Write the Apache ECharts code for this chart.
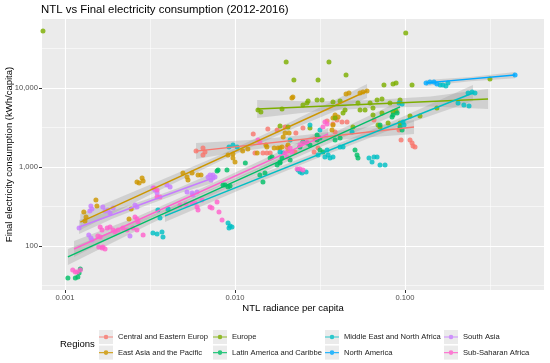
<!DOCTYPE html>
<html><head><meta charset="utf-8">
<script src="https://cdn.jsdelivr.net/npm/echarts@6/dist/echarts.min.js"></script>
<style>html,body{margin:0;padding:0;background:#fff}#c{width:550px;height:363px}</style>
</head><body><div id="c"></div>
<script>
// ---------- DATA (NTL radiance per capita, kWh per capita) ----------
const regionNames = ['Central and Eastern Europ','East Asia and the Pacific','Europe','Latin America and Caribbe','Middle East and North Africa','North America','South Asia','Sub-Saharan Africa'];
const xTicks = [0.001, 0.01, 0.1];
const yTicks = [100, 1000, 10000];

const ceeNTL = [0.0059,0.00648,0.00648,0.00666,0.0128,0.0156,0.0177,0.0197,0.0251,0.0348,0.0377,0.0131,0.0146,0.0154,0.0161,0.0202,0.0205,0.0225,0.0292,0.0296,0.0308,0.0228,0.0398,0.0426,0.0456,0.0388,0.0657,0.0922,0.0948,0.107,0.110,0.1115,0.1145];
const ceeKWh = [1590,1420,1740,1550,2620,3030,2940,3210,3120,3820,3500,1500,1500,1500,1500,1790,1590,1550,1550,2260,1740,2690,3930,3710,3710,2770,3930,2940,2200,2200,2010,1840,1790];

const eapNTL = [0.00129,0.00133,0.00131,0.00152,0.00154,0.00245,0.00238,0.00273,0.00284,0.00288,0.00265,0.00522,0.00529,0.00606,0.00559,0.00631,0.00973,0.00973,0.0100,0.0111,0.0119,0.0152,0.0179,0.0197,0.0208,0.0216,0.0219,0.0450,0.0468,0.0566,0.0598,0.0544,0.0377,0.0404,0.0388,0.0377,0.0372,0.0192,0.0189,0.0184,0.0154,0.0170,0.0205,0.00494,0.00910,0.0135];
const eapKWh = [269,233,207,382,321,294,220,627,726,665,646,747,685,792,840,792,1460,1300,1157,1594,1690,1900,1740,2690,2690,7470,7690,8390,8640,8900,9160,8640,4170,4290,4550,3400,2940,2400,1790,1740,1790,1740,1900,840,1420,1500];

const eurNTL = [0.000742,0.101,0.0200,0.0357,0.0222,0.0308,0.0450,0.0752,0.0850,0.0886,0.110,0.01365,0.0142,0.0189,0.0251,0.0265,0.0269,0.0304,0.0325,0.0377,0.0415,0.0529,0.0623,0.0685,0.0732,0.0816,0.0935,0.0432,0.0444,0.0544,0.0582,0.0648,0.0732,0.0850,0.0886,0.0648,0.0388,0.0184,0.0205,0.0276,0.0494,0.0694,0.0713,0.0795,0.0935,0.107,0.1225,0.154,0.316];
const eurKWh = [52700,49700,21300,21300,12600,12600,14600,10900,11200,11600,10900,5270,4970,5420,6090,6460,6840,7050,7050,6650,6840,6460,6460,7050,7260,6460,7050,4820,5270,5270,5270,4550,4820,4970,5110,5580,4170,3300,3210,3120,3210,3400,3210,3600,3600,4420,4420,5580,13000];

const lacNTL = [0.00104,0.00115,0.00119,0.00121,0.00123,0.00784,0.00795,0.00874,0.00910,0.00935,0.00850,0.0140,0.0150,0.0146,0.0177,0.0184,0.0211,0.0161,0.0165,0.0189,0.0184,0.0251,0.0265,0.0304,0.0316,0.0329,0.0508,0.0522,0.0529,0.0713,0.0839,0.0850,0.0898,0.0304,0.0316,0.0935,0.0961,0.00897,0.0115,0.0241,0.0276,0.0388,0.0415];
const lacKWh = [39.4,39.4,40.5,45.5,51.2,890,916,592,558,575,592,792,840,646,1060,1120,1230,1300,1340,1300,1160,2070,2010,2200,1640,1550,1640,1420,1300,3400,4290,4550,4820,2540,2330,3210,2940,916,1120,1790,1900,2200,2330];

const menaNTL = [0.00329,0.00348,0.00372,0.00377,0.00352,0.00362,0.00404,0.00910,0.00935,0.00960,0.00922,0.00922,0.00973,0.0103,0.0184,0.0192,0.0235,0.0241,0.0248,0.0262,0.0308,0.0338,0.0362,0.0348,0.0353,0.0377,0.0415,0.0432,0.0488,0.0614,0.0640,0.0657,0.0685,0.0713,0.0763,0.0922,0.0961,0.0974,0.0987,0.205,0.222,0.238,0.235,0.248,0.258,0.161,0.167,0.174,0.179,0.0211,0.0276,0.0316];
const menaKWh = [146,142,150,130,286,226,294,196,179,174,169,1790,1900,1790,1550,1500,916,864,840,864,1420,1340,1300,1640,1420,1340,1790,1790,2770,1300,1160,1340,1340,1060,1060,6460,6270,3710,3400,6460,6090,5920,8640,8900,8640,10900,10900,10600,11600,2200,3400,2940];

const naNTL = [0.133,0.140,0.148,0.154,0.444];
const naKWh = [11600,11900,11900,11200,14600];

const saNTL = [0.00121,0.00142,0.00144,0.00140,0.00167,0.00172,0.00184,0.00138,0.00142,0.00144,0.00258,0.00265,0.00329,0.00338,0.00348,0.00398,0.00415,0.00522,0.00559,0.00598,0.00566,0.00723,0.00742,0.00763,0.00742,0.00713,0.00694,0.00192,0.00179,0.00241];
const saKWh = [169,321,294,277,312,277,262,138,126,119,330,312,542,512,469,592,558,483,469,483,442,685,726,747,792,792,747,303,286,134];

const ssaNTL = [0.00111,0.00115,0.00118,0.00123,0.00156,0.00161,0.00158,0.00165,0.00172,0.00167,0.00161,0.00165,0.00177,0.00184,0.00192,0.00197,0.00205,0.00219,0.00232,0.00251,0.00265,0.00258,0.00265,0.00269,0.00288,0.00334,0.00348,0.00348,0.00362,0.00559,0.00582,0.00598,0.00606,0.00640,0.00713,0.00732,0.00784,0.00805,0.00839,0.01365,0.0140,0.0211,0.0216,0.0197,0.0202,0.0232,0.0241,0.0251,0.0338,0.0348,0.0329,0.0241,0.0251,0.0265,0.00515,0.00475];
const ssaKWh = [49.7,46.9,46.9,49.7,134,130,97.1,94.3,91.6,97.1,174,159,169,174,159,150,159,169,159,169,159,233,220,201,138,542,512,417,417,350,350,312,286,382,312,303,361,269,213,2200,2070,1740,1550,1500,1340,944,944,916,3710,3500,3210,1900,2010,2070,340,330];

// fitted lines (end points) and confidence bands
const ceeFitNTL = [0.0059,0.113],   ceeFitKWh = [1590,3210];
const eapFitNTL = [0.00123,0.0598], eapFitKWh = [201,9160];
const eurFitNTL = [0.0135,0.308],   eurFitKWh = [5420,7260];
const lacFitNTL = [0.00104,0.0935], lacFitKWh = [72.6,5750];
const menaFitNTL = [0.003875,0.251], menaFitKWh = [240,8640];
const naFitNTL = [0.133,0.444],     naFitKWh = [11600,14600];
const saFitNTL = [0.00121,0.00742], saFitKWh = [174,726];
const ssaFitNTL = [0.00113,0.0353], ssaFitKWh = [91.6,2620];

const ceeBandNTL = [0.0059,0.0123,0.0258,0.0540,0.113];
const ceeBandLow = [1260,1640,2010,2330,2620];
const ceeBandHigh = [2010,2200,2540,3120,3930];
const eapBandNTL = [0.00123,0.00324,0.00856,0.0226,0.0598];
const eapBandLow = [159,455,1245,3140,7470];
const eapBandHigh = [254,609,1480,3960,11200];
const eurBandNTL = [0.0135,0.0295,0.0635,0.141,0.308];
const eurBandLow = [4170,5040,5580,5830,5420];
const eurBandHigh = [7050,6750,7050,7810,9710];
const lacBandNTL = [0.00104,0.00321,0.00987,0.0304,0.0935];
const lacBandLow = [57.5,193,592,1710,4820];
const lacBandHigh = [91.6,243,705,2170,6840];
const menaBandNTL = [0.003875,0.0110,0.0311,0.0886,0.251];
const menaBandLow = [201,525,1320,3140,6840];
const menaBandHigh = [286,660,1570,3960,10900];
const naBandNTL = [0.133,0.243,0.444];
const naBandLow = [10600,12200,13300];
const naBandHigh = [12600,13800,15900];
const saBandNTL = [0.00121,0.00190,0.00300,0.00472,0.00742];
const saBandLow = [142,221,325,465,627];
const saBandHigh = [213,279,388,552,840];
const ssaBandNTL = [0.00113,0.00267,0.00631,0.0149,0.0353];
const ssaBandLow = [72.6,189,449,1007,2200];
const ssaBandHigh = [116,236,535,1270,3120];

// ---------- STYLE ----------
const palette = ['#F8766D','#CD9600','#7CAE00','#00BE67','#00BFC4','#00A9FF','#C77CFF','#FF61CC'];
const FONT = 'Liberation Sans, Arial, sans-serif';
const L = Math.log10;
const X_MIN = -3.1353, X_MAX = -0.1824, Y_MIN = 1.443, Y_MAX = 4.8734;

const regions = [
  {x:ceeNTL,y:ceeKWh,fx:ceeFitNTL,fy:ceeFitKWh,bx:ceeBandNTL,lo:ceeBandLow,hi:ceeBandHigh},
  {x:eapNTL,y:eapKWh,fx:eapFitNTL,fy:eapFitKWh,bx:eapBandNTL,lo:eapBandLow,hi:eapBandHigh},
  {x:eurNTL,y:eurKWh,fx:eurFitNTL,fy:eurFitKWh,bx:eurBandNTL,lo:eurBandLow,hi:eurBandHigh},
  {x:lacNTL,y:lacKWh,fx:lacFitNTL,fy:lacFitKWh,bx:lacBandNTL,lo:lacBandLow,hi:lacBandHigh},
  {x:menaNTL,y:menaKWh,fx:menaFitNTL,fy:menaFitKWh,bx:menaBandNTL,lo:menaBandLow,hi:menaBandHigh},
  {x:naNTL,y:naKWh,fx:naFitNTL,fy:naFitKWh,bx:naBandNTL,lo:naBandLow,hi:naBandHigh},
  {x:saNTL,y:saKWh,fx:saFitNTL,fy:saFitKWh,bx:saBandNTL,lo:saBandLow,hi:saBandHigh},
  {x:ssaNTL,y:ssaKWh,fx:ssaFitNTL,fy:ssaFitKWh,bx:ssaBandNTL,lo:ssaBandLow,hi:ssaBandHigh}
].map((r,i)=>Object.assign(r,{name:regionNames[i],color:palette[i]}));

const series = [];
regions.forEach(r=>{
  series.push({
    type:'scatter', name:r.name, silent:true, symbolSize:5,
    itemStyle:{color:r.color, opacity:0.82},
    data:r.x.map((v,i)=>[L(v), L(r.y[i])])
  });
});
regions.forEach(r=>{
  series.push({
    type:'custom', name:r.name+' band', silent:true,
    data:[[L(r.bx[0]), L(r.lo[0])]],
    renderItem:(params, api)=>{
      const pts=[];
      for(let i=0;i<r.bx.length;i++) pts.push(api.coord([L(r.bx[i]), L(r.hi[i])]));
      for(let i=r.bx.length-1;i>=0;i--) pts.push(api.coord([L(r.bx[i]), L(r.lo[i])]));
      return {type:'polygon', shape:{points:pts}, style:{fill:'rgba(153,153,153,0.32)'}};
    }
  });
  series.push({
    type:'line', name:r.name+' fit', silent:true, symbol:'none',
    lineStyle:{color:r.color, width:1.4},
    data:r.fx.map((v,i)=>[L(v), L(r.fy[i])])
  });
});

const ICON = 'path://M0,0L0.01,0L0.01,0.01ZM14,14L13.99,14L13.99,13.99ZM0,6.4H4.8V7.6H0ZM9.2,6.4H14V7.6H9.2ZM4.7,7A2.3,2.3 0 1 1 9.3,7A2.3,2.3 0 1 1 4.7,7Z';
const legendCols = [[0,1],[2,3],[4,5],[6,7]];
const colLeft = [99, 213, 325, 444];
const legendTop = 330, rowStep = 15.6;

const graphics = [{type:'text', left:60, top:339, z:10, style:{text:'Regions', fontSize:9.5, fill:'#000', fontFamily:FONT}}];
legendCols.forEach((c,j)=>c.forEach((k,r)=>graphics.push({type:'rect', left:colLeft[j], top:legendTop+r*rowStep, z:0, shape:{width:14,height:14}, style:{fill:'#EBEBEB'}})));

const majorGrid = {show:true, lineStyle:{color:'#FFFFFF', width:1.1}};
const minorGrid = {show:true, lineStyle:{color:'#FFFFFF', width:0.55}};

const option = {
  animation:false,
  backgroundColor:'#FFFFFF',
  title:{text:'NTL vs Final electricity consumption (2012-2016)', left:41, top:4, padding:0,
    textStyle:{fontSize:11.4, fontWeight:'normal', color:'#000', fontFamily:FONT}},
  grid:{left:42, top:19, width:502, height:271, show:true, backgroundColor:'#EBEBEB', borderWidth:0, containLabel:false, outerBoundsMode:'none'},
  graphic:graphics,
  legend:legendCols.map((c,j)=>({
    orient:'vertical', left:colLeft[j], top:legendTop, padding:0, itemGap:rowStep-14,
    itemWidth:14, itemHeight:14, selectedMode:false, z:5,
    data:c.map(k=>({name:regionNames[k], icon:ICON})),
    textStyle:{fontSize:7.6, color:'#1A1A1A', fontFamily:FONT}
  })),
  xAxis:[
    {type:'value', min:X_MIN, max:X_MAX, position:'bottom', z:1,
     axisLine:{show:false},
     axisTick:{show:true, length:3, lineStyle:{color:'#333333', width:1}, customValues:xTicks.map(L)},
     axisLabel:{customValues:xTicks.map(L), formatter:v=>Math.pow(10,v).toFixed(3), color:'#4D4D4D', fontSize:7.6, margin:4, fontFamily:FONT},
     splitLine:majorGrid,
     name:'NTL radiance per capita', nameLocation:'middle', nameGap:13, nameMoveOverlap:false,
     nameTextStyle:{fontSize:9.5, color:'#000', fontFamily:FONT}},
    {type:'value', min:X_MIN, max:X_MAX, position:'top', z:0,
     axisLine:{show:false}, axisLabel:{show:false},
     axisTick:{show:false, customValues:[-2.5,-1.5,-0.5]},
     splitLine:minorGrid}
  ],
  yAxis:[
    {type:'value', min:Y_MIN, max:Y_MAX, position:'left', z:1,
     axisLine:{show:false},
     axisTick:{show:true, length:3, lineStyle:{color:'#333333', width:1}, customValues:yTicks.map(L)},
     axisLabel:{customValues:yTicks.map(L), formatter:v=>Math.round(Math.pow(10,v)).toLocaleString('en-US'), color:'#4D4D4D', fontSize:7.6, margin:4, fontFamily:FONT},
     splitLine:majorGrid,
     name:'Final electricity consumption (kWh/capita)', nameLocation:'middle', nameGap:28, nameMoveOverlap:false,
     nameTextStyle:{fontSize:9.5, color:'#000', fontFamily:FONT}},
    {type:'value', min:Y_MIN, max:Y_MAX, position:'right', z:0,
     axisLine:{show:false}, axisLabel:{show:false},
     axisTick:{show:false, customValues:[1.5,2.5,3.5,4.5]},
     splitLine:minorGrid}
  ],
  series:series
};
const chart = echarts.init(document.getElementById('c'), null, {renderer:'canvas'});
chart.setOption(option);
</script>
</body></html>
